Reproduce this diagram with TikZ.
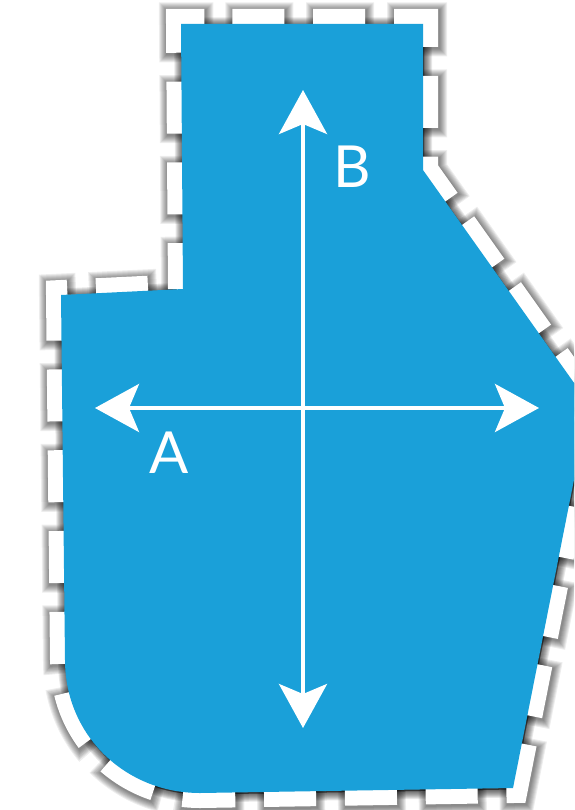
\documentclass[tikz,border=0pt]{standalone}
\usepackage{fontspec}
\newfontfamily\labelfont{Lato}
\usetikzlibrary{arrows.meta}
\usepackage{xcolor}
\definecolor{shapeblue}{RGB}{26,160,217}

% outline of the blue region, in pixel units
\newcommand{\regionpath}{(218,24) -- (423,24) -- (423,170) -- (589,404) -- (513,788) -- (200,793) .. controls (125,793) and (65,735) .. (65,660) -- (61,295) -- (183,289) -- (181,24) -- cycle}

\begin{document}
\begin{tikzpicture}[
        x=1pt, y=-1pt,
        border/.style={white, line width=30pt, line join=miter, dash pattern=on 52pt off 28.8pt, dash phase=66.4pt},
        region/.style={fill=shapeblue},
        axis/.style={white, line width=4pt, {Stealth[length=44pt, width=48pt, inset=10pt]}-{Stealth[length=44pt, width=48pt, inset=10pt]}},
        lbl/.style={white, inner sep=0pt, font=\labelfont\fontsize{58}{58}\selectfont}
    ]
        \useasboundingbox (0,0) rectangle (574,810);
        \clip (0,0) rectangle (574,810);
        \fill[white] (0,0) rectangle (574,810);

        % blurred shadow of region and dashed border
        \foreach \e in {1,...,8} {
            \pgfmathsetmacro\lw{30+2*\e}
            \pgfmathsetmacro\don{52+2*\e}
            \pgfmathsetmacro\doff{28.8-2*\e}
            \pgfmathsetmacro\dph{66.4+\e}
            \filldraw[black, opacity=0.09, line join=miter, line width=2*\e pt, shift={(1,1.5)}] \regionpath;
            \draw[black, opacity=0.07, line join=miter, line width=\lw pt, dash pattern=on \don pt off \doff pt, dash phase=\dph pt, shift={(1,1.5)}] \regionpath;
        }

        % border and region
        \draw[border] \regionpath;
        \fill[region] \regionpath;

        % axes
        \coordinate (aleft) at (95,408);
        \coordinate (aright) at (539,408);
        \coordinate (btop) at (303,90);
        \coordinate (bbot) at (303,728);
        \draw[axis] (aleft) -- (aright);
        \draw[axis] (bbot) -- (btop);

        \node[lbl] (labA) at (169,453) {A};
        \node[lbl] (labB) at (352,167) {B};
    \end{tikzpicture}
\end{document}
